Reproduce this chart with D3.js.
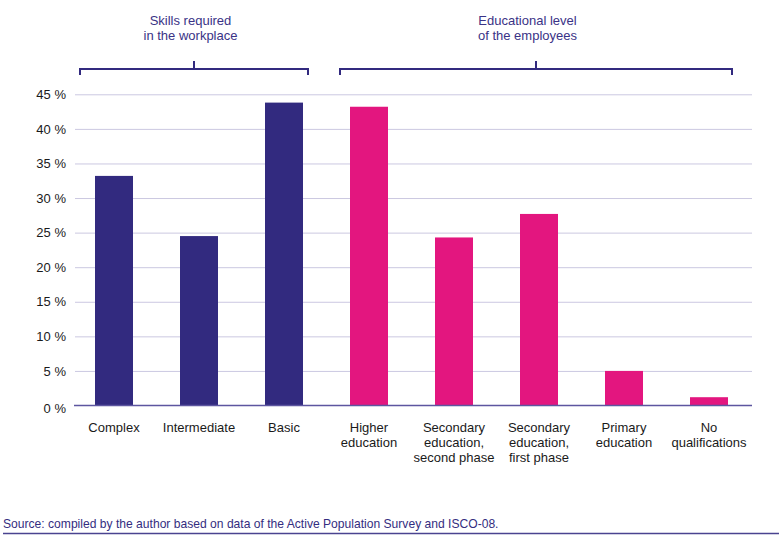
<!DOCTYPE html>
<html><head><meta charset="utf-8">
<script src="https://cdn.jsdelivr.net/npm/d3@7"></script>
<style>
body{margin:0;background:#fff;}
svg{display:block;font-family:"Liberation Sans",Arial,sans-serif;}
</style></head>
<body>
<svg id="chart" width="784" height="538"></svg>
<script>
const categories = ["Complex","Intermediate","Basic","Higher education","Secondary education, second phase","Secondary education, first phase","Primary education","No qualifications"];
const categoryLines = [["Complex"],["Intermediate"],["Basic"],["Higher","education"],["Secondary","education,","second phase"],["Secondary","education,","first phase"],["Primary","education"],["No","qualifications"]];
const groups = ["skills","skills","skills","education","education","education","education","education"];
const values = [33.2, 24.5, 43.8, 43.2, 24.3, 27.7, 5.0, 1.2];
const yTicks = [5,10,15,20,25,30,35,40,45];
const zeroLabel = "0 %";
const groupTitles = [["Skills required","in the workplace"],["Educational level","of the employees"]];
const sourceText = "Source: compiled by the author based on data of the Active Population Survey and ISCO-08.";

const navy = "#322a7f", pink = "#e3167f", grid = "#cbc8e1", textC = "#1a1a1a";
const svg = d3.select("#chart");

const x = d3.scaleBand().domain(categories).range([71.5, 751.5]).paddingInner(0.553).paddingOuter(0.2765);
const y = d3.scaleLinear().domain([0,45]).range([405.5, 94.3]);

// gridlines + tick labels
const yAxis = d3.axisLeft(y).tickValues(yTicks).tickSize(-(752-75)).tickPadding(9).tickFormat(d => d + " %");
const ga = svg.append("g").attr("transform","translate(75,0)").call(yAxis);
ga.select(".domain").remove();
ga.selectAll(".tick line").attr("stroke", grid).attr("stroke-width",1);
ga.selectAll(".tick text").attr("fill", textC).style("font-size","13px").style("font-family","'Liberation Sans',Arial,sans-serif");
svg.append("text").attr("x",66).attr("y",y(0)+3).attr("text-anchor","end").attr("dominant-baseline","central")
  .attr("fill",textC).style("font-size","13px").text(zeroLabel);

// bars
svg.append("g").selectAll("rect").data(categories).join("rect")
  .attr("x", d => x(d)).attr("width", x.bandwidth())
  .attr("y", (d,i) => y(values[i])).attr("height", (d,i) => y(0) - y(values[i]))
  .attr("fill", (d,i) => groups[i] === "skills" ? navy : pink);

// baseline
svg.append("line").attr("x1",74).attr("x2",752).attr("y1",y(0)).attr("y2",y(0))
  .attr("stroke","#5d56a0").attr("stroke-width",1.6);

// x labels
const xl = svg.append("g").selectAll("text").data(categories).join("text")
  .attr("text-anchor","middle").attr("fill",textC).style("font-size","13px")
  .attr("x", d => x(d) + x.bandwidth()/2).attr("y", 432);
xl.each(function(d,i){
  const t = d3.select(this);
  categoryLines[i].forEach((ln,j) => t.append("tspan").attr("x", x(d)+x.bandwidth()/2).attr("dy", j===0?0:15).text(ln));
});

// brackets
const brackets = [
  {x1: x(categories[0]) - 15, x2: x(categories[2]) + x.bandwidth() + 5, tx: 190.5, titles: groupTitles[0]},
  {x1: x(categories[3]) - 10, x2: x(categories[7]) + x.bandwidth() + 4, tx: 527.5, titles: groupTitles[1]}
];
brackets.forEach(b => {
  const mid = (b.x1 + b.x2)/2;
  svg.append("path").attr("d", `M${b.x1},75V69H${b.x2}V75M${mid},69V61`)
    .attr("fill","none").attr("stroke", navy).attr("stroke-width",2);
  b.titles.forEach((t,j) => svg.append("text").attr("x", b.tx).attr("y", 24.5 + j*15)
    .attr("text-anchor","middle").attr("fill", "#3a3386").style("font-size","13px").text(t));
});

// source
svg.append("text").attr("x",3).attr("y",528).attr("fill","#342d80").style("font-size","12.1px").text(sourceText);
svg.append("line").attr("x1",3).attr("x2",779).attr("y1",533.5).attr("y2",533.5).attr("stroke","#4a4390").attr("stroke-width",1.6);
</script>
</body></html>
